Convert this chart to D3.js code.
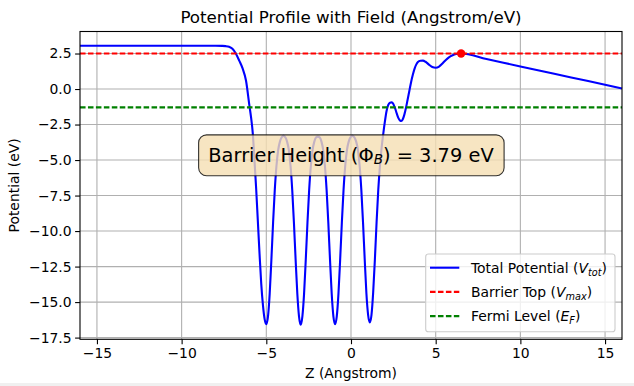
<!DOCTYPE html>
<html>
<head>
<meta charset="utf-8">
<script src="https://cdn.jsdelivr.net/npm/d3@7"></script>
<style>
    body { margin: 0; background: #ffffff; }
    svg { display: block; font-family: "DejaVu Sans", sans-serif; }
</style>
</head>
<body>
<script>
// potential profile (z in Angstrom, V in eV)
const zValues = [-16, -8, -7.6, -7.4, -7.2, -7.0, -6.8, -6.6, -6.4, -6.2, -6.0, -5.9, -5.8, -5.7, -5.6, -5.5, -5.4, -5.3, -5.2, -5.1, -5.0,
    -4.9, -4.8, -4.7, -4.6, -4.5, -4.4, -4.3, -4.2, -4.1, -3.985,
    -3.87, -3.77, -3.67, -3.57, -3.47, -3.37, -3.27, -3.17, -3.07, -2.97,
    -2.87, -2.77, -2.67, -2.57, -2.47, -2.37, -2.27, -2.17, -2.07, -1.955,
    -1.84, -1.74, -1.64, -1.54, -1.44, -1.34, -1.24, -1.14, -1.04, -0.94,
    -0.84, -0.74, -0.64, -0.54, -0.44, -0.34, -0.24, -0.14, -0.04, 0.08,
    0.21, 0.31, 0.41, 0.51, 0.61, 0.71, 0.81, 0.91, 1.01, 1.11,
    1.21, 1.31, 1.41, 1.51, 1.61, 1.71, 1.81, 1.91, 2.0, 2.1, 2.2, 2.3, 2.4,
    2.5, 2.6, 2.7, 2.8, 2.9, 2.97, 3.05, 3.15, 3.25, 3.35, 3.45, 3.55, 3.65, 3.75, 3.85, 3.95,
    4.1, 4.25, 4.4, 4.6, 4.8, 5.0, 5.2, 5.4, 5.6, 5.8, 6.0, 6.2, 6.5, 8, 10, 12, 14, 16]
const vValues = [3.05, 3.05, 3.04, 3.02, 2.97, 2.84, 2.5, 2.0, 1.45, 0.6, -1.15, -2.0, -3.1, -5.0, -7.0, -9.3, -11.6, -13.7, -15.2, -16.2, -16.55,
    -16.0, -14.4, -12.0, -9.4, -7.1, -5.4, -4.3, -3.72, -3.42, -3.3,
    -3.42, -3.72, -4.3, -5.4, -7.1, -9.4, -12.0, -14.4, -16.0, -16.6,
    -16.0, -14.4, -12.0, -9.4, -7.1, -5.4, -4.3, -3.72, -3.42, -3.35,
    -3.42, -3.72, -4.3, -5.4, -7.1, -9.4, -12.0, -14.4, -16.0, -16.55,
    -16.0, -14.4, -12.0, -9.4, -7.1, -5.4, -4.3, -3.72, -3.42, -3.3,
    -3.42, -3.72, -4.3, -5.4, -7.1, -9.4, -12.0, -14.4, -15.9, -16.43,
    -15.9, -14.3, -12.0, -9.4, -7.1, -5.4, -4.1, -3.1, -2.3, -1.55, -1.12, -0.96, -0.94,
    -1.05, -1.35, -1.72, -2.05, -2.22, -2.25, -2.15, -1.8, -1.3, -0.7, -0.1, 0.5, 1.0, 1.42, 1.72, 1.9,
    1.99, 2.0, 1.92, 1.72, 1.55, 1.5, 1.58, 1.8, 2.05, 2.25, 2.38, 2.46, 2.5, 2.11, 1.59, 1.07, 0.56, 0.04]

const zAtMax = 6.5
const vMax = 2.50
const fermiLevel = -1.29
const barrierHeight = 3.79

const xTicks = [-15, -10, -5, 0, 5, 10, 15]
const yTicks = [2.5, 0, -2.5, -5, -7.5, -10, -12.5, -15, -17.5]

const legendLabels = [
    {text: 'Total Potential (', v: 'V', sub: 'tot', color: '#0000ff', dash: null},
    {text: 'Barrier Top (', v: 'V', sub: 'max', color: '#ff0000', dash: '5.55,2.4'},
    {text: 'Fermi Level (', v: 'E', sub: 'F', color: '#008000', dash: '5.55,2.4'}
]

const w = 634
const h = 386
const axLeft = 80, axRight = 622, axTop = 31.5, axBottom = 339.3

const data = zValues.map((z, i) => ({z: z, v: vValues[i]}))

const svg = d3.select('body')
    .append('svg')
    .attr('width', w)
    .attr('height', h)

svg.append('rect').attr('x', 0).attr('y', 383).attr('width', w).attr('height', 3).attr('fill', '#f0f0f0')

const xScale = d3.scaleLinear().domain([-16, 16]).range([axLeft, axRight])
const yScale = d3.scaleLinear().domain([-17.62, 4.05]).range([axBottom, axTop])

// grid
svg.append('g').selectAll('line')
    .data(xTicks)
    .enter()
    .append('line')
    .attr('x1', d => xScale(d)).attr('x2', d => xScale(d))
    .attr('y1', axTop).attr('y2', axBottom)
    .attr('stroke', '#b0b0b0').attr('stroke-width', 1.1)

svg.append('g').selectAll('line')
    .data(yTicks)
    .enter()
    .append('line')
    .attr('y1', d => yScale(d)).attr('y2', d => yScale(d))
    .attr('x1', axLeft).attr('x2', axRight)
    .attr('stroke', '#b0b0b0').attr('stroke-width', 1.1)

// curve
const line = d3.line()
    .x(d => xScale(d.z))
    .y(d => yScale(d.v))
    .curve(d3.curveMonotoneX)

svg.append('path')
    .datum(data)
    .attr('d', line)
    .attr('fill', 'none')
    .attr('stroke', '#0000ff')
    .attr('stroke-width', 2.1)

svg.append('line')
    .attr('x1', axLeft).attr('x2', axRight)
    .attr('y1', yScale(vMax)).attr('y2', yScale(vMax))
    .attr('stroke', '#ff0000').attr('stroke-width', 2.1)
    .attr('stroke-dasharray', '5.55,2.4')

svg.append('line')
    .attr('x1', axLeft).attr('x2', axRight)
    .attr('y1', yScale(fermiLevel)).attr('y2', yScale(fermiLevel))
    .attr('stroke', '#008000').attr('stroke-width', 2.1)
    .attr('stroke-dasharray', '5.55,2.4')

svg.append('circle')
    .attr('cx', xScale(zAtMax))
    .attr('cy', yScale(vMax))
    .attr('r', 4.2)
    .attr('fill', '#ff0000')

// axes
const xAxis = d3.axisBottom(xScale).tickValues(xTicks).tickSizeInner(4.9).tickSizeOuter(0).tickPadding(3.5).tickFormat(d3.format('d'))
const yAxis = d3.axisLeft(yScale).tickValues(yTicks).tickSizeInner(4.9).tickSizeOuter(0).tickPadding(3.5).tickFormat(d3.format('.1f'))

const gx = svg.append('g')
    .attr('transform', 'translate(0,' + axBottom + ')')
    .call(xAxis)
const gy = svg.append('g')
    .attr('transform', 'translate(' + axLeft + ',0)')
    .call(yAxis)

;[gx, gy].forEach(g => {
    g.select('.domain').remove()
    g.selectAll('.tick line').attr('stroke', '#000').attr('stroke-width', 1.1)
    g.selectAll('.tick text').attr('fill', '#000').style('font-size', '13.9px').style('font-family', 'DejaVu Sans')
})

svg.append('rect')
    .attr('x', axLeft).attr('y', axTop)
    .attr('width', axRight - axLeft).attr('height', axBottom - axTop)
    .attr('fill', 'none').attr('stroke', '#000').attr('stroke-width', 1.1)

// annotation box
const note = svg.append('g')
const noteText = note.append('text')
    .attr('x', xScale(0))
    .attr('y', yScale(-4.65))
    .attr('text-anchor', 'middle')
    .attr('dominant-baseline', 'central')
    .style('font-size', '19.4px')
    .attr('fill', '#000')
noteText.append('tspan').text('Barrier Height (\u03A6')
noteText.append('tspan').text('B').style('font-style', 'italic').style('font-size', '13.6px').attr('dy', 4)
noteText.append('tspan').text(') = ' + barrierHeight.toFixed(2) + ' eV').attr('dy', -4)
const bb = noteText.node().getBBox()
const pad = 9.7
note.insert('rect', 'text')
    .attr('x', bb.x - pad).attr('y', bb.y - pad + 1)
    .attr('width', bb.width + 2 * pad).attr('height', bb.height + 2 * pad - 2)
    .attr('rx', 8).attr('ry', 8)
    .attr('fill', 'rgba(245,222,179,0.8)')
    .attr('stroke', 'rgba(0,0,0,0.8)')
    .attr('stroke-width', 1.1)

// labels
svg.append('text')
    .attr('x', (axLeft + axRight) / 2).attr('y', 22.7)
    .attr('text-anchor', 'middle')
    .style('font-size', '16.7px')
    .text('Potential Profile with Field (Angstrom/eV)')

svg.append('text')
    .attr('x', (axLeft + axRight) / 2).attr('y', 377.5)
    .attr('text-anchor', 'middle')
    .style('font-size', '13.9px')
    .text('Z (Angstrom)')

svg.append('text')
    .attr('transform', 'translate(19,' + (axTop + axBottom) / 2 + ') rotate(-90)')
    .attr('text-anchor', 'middle')
    .style('font-size', '13.9px')
    .text('Potential (eV)')

// legend
const legend = svg.append('g')
legend.append('rect')
    .attr('x', 425.7).attr('y', 254)
    .attr('width', 615 - 425.7).attr('height', 331.7 - 254)
    .attr('rx', 2.8).attr('ry', 2.8)
    .attr('fill', 'rgba(255,255,255,0.8)')
    .attr('stroke', '#cccccc')
    .attr('stroke-width', 1.1)

legendLabels.forEach((d, i) => {
    const cy = 267.7 + i * 24.2
    legend.append('line')
        .attr('x1', 430).attr('x2', 459.3)
        .attr('y1', cy).attr('y2', cy)
        .attr('stroke', d.color).attr('stroke-width', 2.1)
        .attr('stroke-dasharray', d.dash)
    const t = legend.append('text')
        .attr('x', 471).attr('y', cy + 5)
        .style('font-size', '13.9px')
        .attr('fill', '#000')
    t.append('tspan').text(d.text)
    t.append('tspan').text(d.v).style('font-style', 'italic')
    t.append('tspan').text(d.sub).style('font-style', 'italic').style('font-size', '9.7px').attr('dy', 3)
    t.append('tspan').text(')').attr('dy', -3)
})
</script>
</body>
</html>
